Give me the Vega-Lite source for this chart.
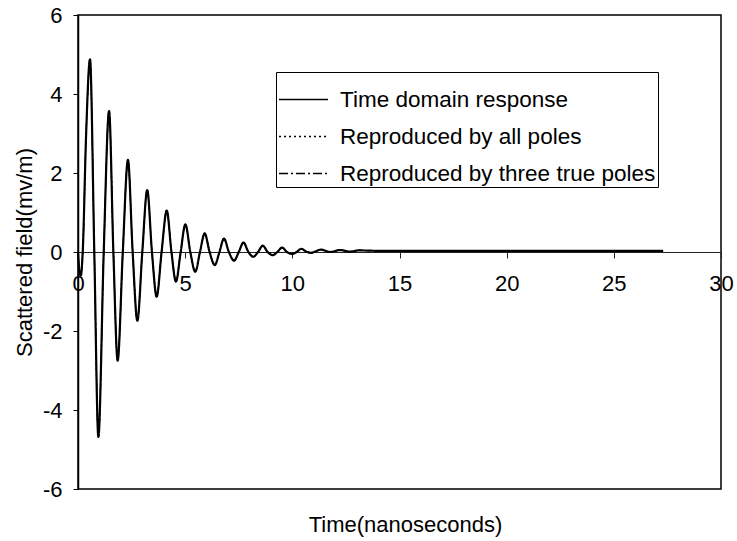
{
  "$schema": "https://vega.github.io/schema/vega-lite/v6.json",
  "width": 643,
  "height": 474,
  "autosize": "none",
  "padding": {"left": 78, "top": 15, "right": 16, "bottom": 52},
  "background": "white",
  "title": {
    "text": "Time(nanoseconds)",
    "orient": "bottom",
    "frame": "group",
    "offset": 15,
    "dx": 6,
    "fontSize": 22,
    "fontWeight": "normal",
    "font": "Liberation Sans",
    "color": "black"
  },
  "config": {
    "font": "Liberation Sans",
    "view": {"stroke": "black", "strokeWidth": 1.5},
    "axis": {
      "grid": false,
      "labelFont": "Liberation Sans",
      "labelFontSize": 22,
      "labelColor": "black",
      "titleFont": "Liberation Sans",
      "titleFontSize": 22,
      "titleFontWeight": "normal",
      "titleColor": "black",
      "tickColor": "black",
      "domainColor": "black"
    }
  },
  "datasets": {
    "curve": [
      {"t": 0.0, "v": 0.0},
      {"t": 0.06, "v": -0.45},
      {"t": 0.13, "v": -0.6},
      {"t": 0.22, "v": 0.0},
      {"t": 0.38, "v": 3.0},
      {"t": 0.56, "v": 4.88},
      {"t": 0.76, "v": 0.0},
      {"t": 0.95, "v": -4.68},
      {"t": 1.2, "v": 0.0},
      {"t": 1.45, "v": 3.57},
      {"t": 1.65, "v": 0.0},
      {"t": 1.85, "v": -2.75},
      {"t": 2.09, "v": 0.0},
      {"t": 2.33, "v": 2.33},
      {"t": 2.55, "v": 0.0},
      {"t": 2.77, "v": -1.74},
      {"t": 3.0, "v": 0.0},
      {"t": 3.23, "v": 1.57},
      {"t": 3.45, "v": 0.0},
      {"t": 3.67, "v": -1.13},
      {"t": 3.9, "v": 0.0},
      {"t": 4.14, "v": 1.05},
      {"t": 4.36, "v": 0.0},
      {"t": 4.57, "v": -0.75},
      {"t": 4.79, "v": 0.0},
      {"t": 5.01, "v": 0.7},
      {"t": 5.24, "v": 0.0},
      {"t": 5.47, "v": -0.5},
      {"t": 5.69, "v": 0.0},
      {"t": 5.91, "v": 0.47},
      {"t": 6.14, "v": 0.0},
      {"t": 6.38, "v": -0.33},
      {"t": 6.6, "v": 0.0},
      {"t": 6.81, "v": 0.34},
      {"t": 7.04, "v": 0.0},
      {"t": 7.28, "v": -0.22},
      {"t": 7.5, "v": 0.0},
      {"t": 7.72, "v": 0.24},
      {"t": 7.95, "v": 0.0},
      {"t": 8.18, "v": -0.12},
      {"t": 8.4, "v": 0.0},
      {"t": 8.62, "v": 0.16},
      {"t": 8.85, "v": 0.0},
      {"t": 9.08, "v": -0.08},
      {"t": 9.3, "v": 0.0},
      {"t": 9.52, "v": 0.11},
      {"t": 9.75, "v": 0.0},
      {"t": 9.98, "v": -0.05},
      {"t": 10.2, "v": 0.0},
      {"t": 10.42, "v": 0.08},
      {"t": 10.65, "v": 0.01},
      {"t": 10.88, "v": -0.02},
      {"t": 11.1, "v": 0.02},
      {"t": 11.32, "v": 0.06},
      {"t": 11.78, "v": 0.0},
      {"t": 12.22, "v": 0.05},
      {"t": 12.68, "v": 0.01},
      {"t": 13.1, "v": 0.04},
      {"t": 14.0, "v": 0.03},
      {"t": 15.5, "v": 0.03},
      {"t": 17.0, "v": 0.03},
      {"t": 20.0, "v": 0.03},
      {"t": 23.0, "v": 0.03},
      {"t": 25.5, "v": 0.03},
      {"t": 27.3, "v": 0.03}
    ]
  },
  "data": {"name": "curve"},
  "encoding": {
    "x": {
      "field": "t",
      "type": "quantitative",
      "scale": {"domain": [0, 30], "nice": false},
      "axis": {
        "title": null,
        "values": [0, 5, 10, 15, 20, 25, 30],
        "offset": {"expr": "scale('y', 0) - height"},
        "domainColor": "#222222",
        "domainWidth": 1,
        "tickSize": 6,
        "tickColor": "#222222",
        "labelPadding": 15,
        "labelFlush": false,
        "labelOverlap": false
      }
    },
    "y": {
      "field": "v",
      "type": "quantitative",
      "scale": {"domain": [-6, 6], "nice": false},
      "axis": {
        "title": "Scattered field(mv/m)",
        "values": [-6, -4, -2, 0, 2, 4, 6],
        "labelExpr": "toString(datum.value)",
        "tickSize": 5,
        "labelPadding": 11,
        "titlePadding": 6,
        "domainWidth": 1.5
      }
    }
  },
  "layer": [
    {
      "mark": {"type": "line", "interpolate": "monotone", "color": "black", "strokeWidth": 2.2},
      "encoding": {
        "strokeDash": {
          "datum": "Time domain response",
          "scale": {
            "domain": ["Time domain response", "Reproduced by all poles", "Reproduced by three true poles"],
            "range": [[1, 0], [2, 3], [9, 3, 2, 3]]
          },
          "legend": {
            "title": null,
            "orient": "none",
            "legendX": 198,
            "legendY": 57,
            "direction": "vertical",
            "strokeColor": "black",
            "fillColor": "white",
            "padding": 2,
            "labelFontSize": 22.5,
            "labelFont": "Liberation Sans",
            "labelColor": "black",
            "labelLimit": 500,
            "labelOffset": 11,
            "symbolType": "stroke",
            "symbolSize": 2401,
            "symbolStrokeWidth": 1.5,
            "symbolStrokeColor": "black",
            "rowPadding": 0
          }
        }
      }
    },
    {
      "mark": {"type": "line", "interpolate": "monotone", "color": "black", "strokeWidth": 1.2},
      "encoding": {"strokeDash": {"datum": "Reproduced by all poles"}}
    },
    {
      "mark": {"type": "line", "interpolate": "monotone", "color": "black", "strokeWidth": 1.2},
      "encoding": {"strokeDash": {"datum": "Reproduced by three true poles"}}
    }
  ]
}
